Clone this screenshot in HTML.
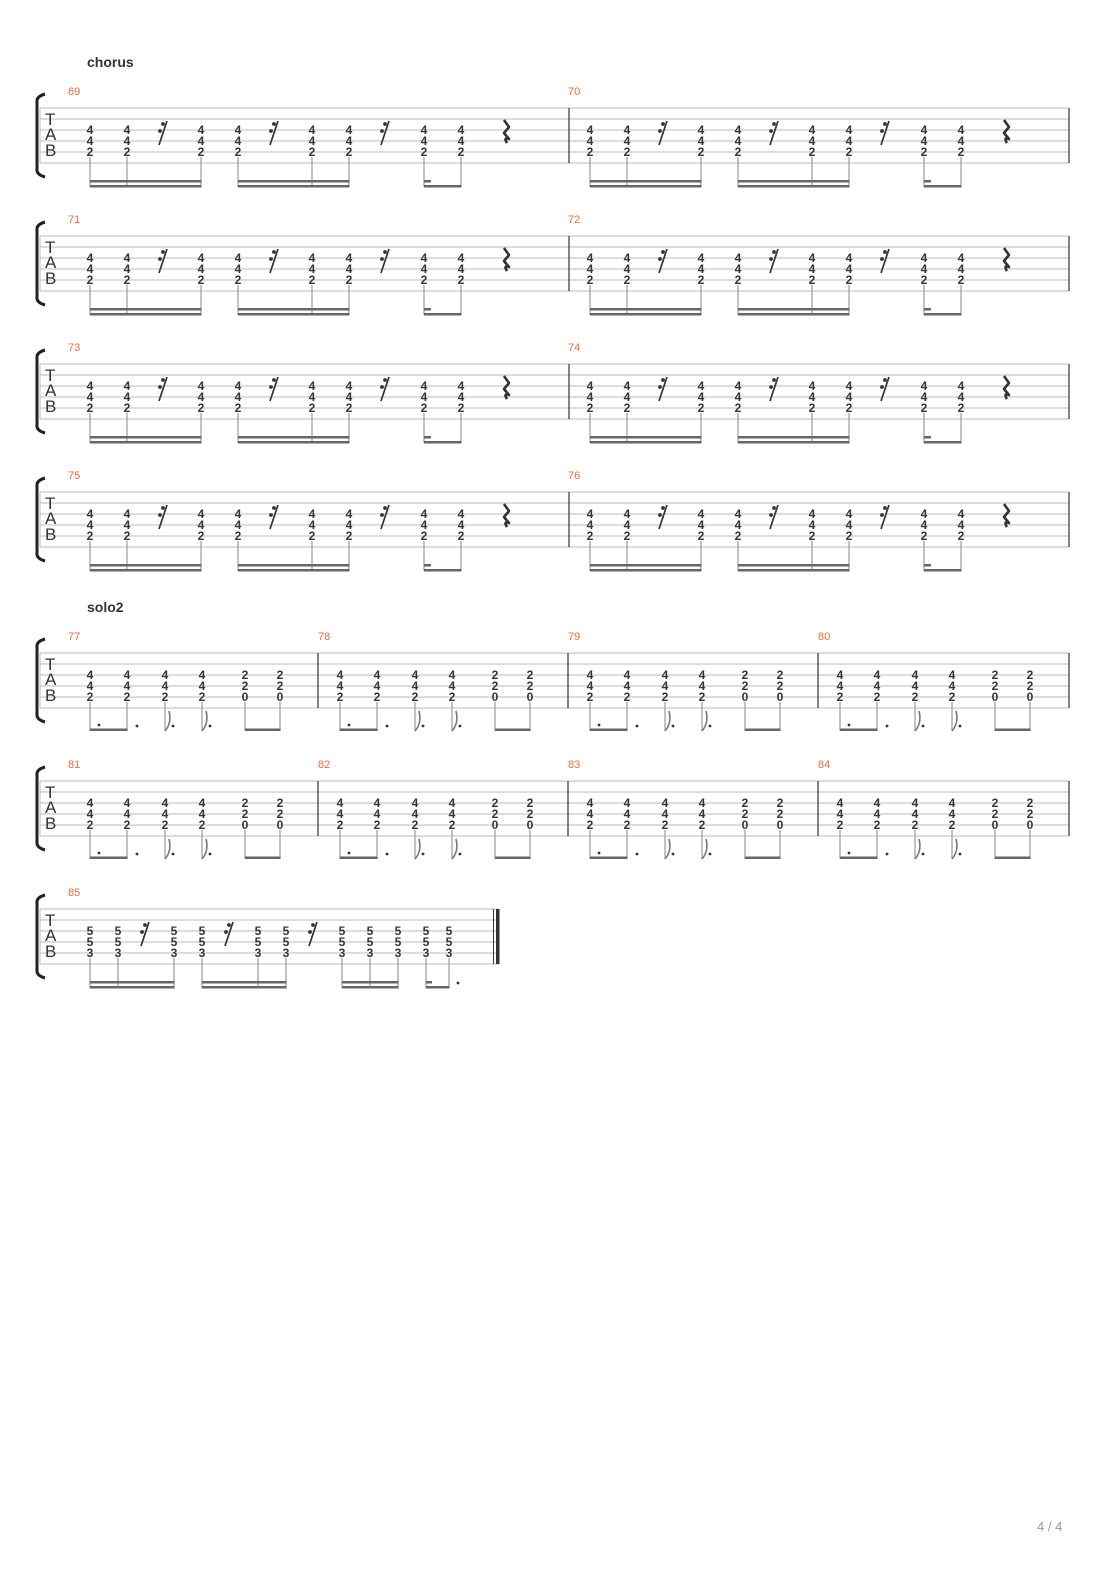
<!DOCTYPE html>
<html><head><meta charset="utf-8"><style>
body{margin:0;background:#fff}
svg{display:block}
.n{font:bold 12px "Liberation Sans",sans-serif;fill:#333;text-anchor:middle}
.mn{font:11px "Liberation Sans",sans-serif;fill:#f26b3a}
.tab{font:17px "Liberation Sans",sans-serif;fill:#333}
.sec{font:bold 14px "Liberation Sans",sans-serif;fill:#333}
.st{stroke:#bbb;stroke-width:1}
.stem{stroke:#999;stroke-width:1.2;fill:none}
.bm{fill:#666}
.r{stroke:#333;stroke-width:1.7;fill:none}
.rd{fill:#333}
.q{stroke:#333;stroke-width:2.6;fill:none;stroke-linejoin:round}
.fl{stroke:#777;stroke-width:1.6;fill:none}
.dt{fill:#333}
</style></head><body>
<svg width="1110" height="1570" viewBox="0 0 1110 1570" xmlns="http://www.w3.org/2000/svg">
<text class="sec" x="87" y="67">chorus</text>
<text class="sec" x="87" y="612">solo2</text>
<text x="1037" y="1531" style="font:13px 'Liberation Sans',sans-serif;fill:#999">4 / 4</text>

<!-- CHORUS SYSTEMS -->
<g id="sys1" transform="translate(0,108)">
<path class="st" d="M40 0H1069M40 11H1069M40 22H1069M40 33H1069M40 44H1069M40 55H1069M40 0V55"/>
<path d="M569 0V55M1069 0V55" stroke="#333" stroke-width="1.2"/>
<path d="M45 -14Q38 -12 37 -8V63Q38 67 45 69" stroke="#222" stroke-width="3" fill="none"/>
<text class="tab" x="45" y="17">T</text><text class="tab" x="45" y="32">A</text><text class="tab" x="45" y="48">B</text>
<text class="mn" x="68" y="-13">69</text><text class="mn" x="568" y="-13">70</text>
<g transform="translate(40,0)">
<text class="n" x="50" y="26">4<tspan x="50" dy="11">4</tspan><tspan x="50" dy="11">2</tspan></text>
<text class="n" x="87" y="26">4<tspan x="87" dy="11">4</tspan><tspan x="87" dy="11">2</tspan></text>
<text class="n" x="161" y="26">4<tspan x="161" dy="11">4</tspan><tspan x="161" dy="11">2</tspan></text>
<text class="n" x="198" y="26">4<tspan x="198" dy="11">4</tspan><tspan x="198" dy="11">2</tspan></text>
<text class="n" x="272" y="26">4<tspan x="272" dy="11">4</tspan><tspan x="272" dy="11">2</tspan></text>
<text class="n" x="309" y="26">4<tspan x="309" dy="11">4</tspan><tspan x="309" dy="11">2</tspan></text>
<text class="n" x="384" y="26">4<tspan x="384" dy="11">4</tspan><tspan x="384" dy="11">2</tspan></text>
<text class="n" x="421" y="26">4<tspan x="421" dy="11">4</tspan><tspan x="421" dy="11">2</tspan></text>
<path class="r" d="M127 13L119 37M238 13L230 37M349 13L341 37"/>
<circle class="rd" cx="123" cy="16" r="1.9"/><circle class="rd" cx="120" cy="23" r="1.9"/>
<circle class="rd" cx="234" cy="16" r="1.9"/><circle class="rd" cx="231" cy="23" r="1.9"/>
<circle class="rd" cx="345" cy="16" r="1.9"/><circle class="rd" cx="342" cy="23" r="1.9"/>
<path class="q" d="M464 12L469 19L464 25L469 31Q463 29 467 35"/>
<path class="stem" d="M50 49V79M87 49V79M161 49V79M198 49V79M272 49V79M309 49V79M384 49V79M421 49V79"/>
<rect class="bm" x="50" y="72" width="111.5" height="2.5"/><rect class="bm" x="50" y="77" width="111.5" height="2.5"/>
<rect class="bm" x="198" y="72" width="111.5" height="2.5"/><rect class="bm" x="198" y="77" width="111.5" height="2.5"/>
<rect class="bm" x="384" y="72" width="7" height="2.5"/><rect class="bm" x="384" y="77" width="37.5" height="2.5"/>
</g>
<g transform="translate(540,0)">
<text class="n" x="50" y="26">4<tspan x="50" dy="11">4</tspan><tspan x="50" dy="11">2</tspan></text>
<text class="n" x="87" y="26">4<tspan x="87" dy="11">4</tspan><tspan x="87" dy="11">2</tspan></text>
<text class="n" x="161" y="26">4<tspan x="161" dy="11">4</tspan><tspan x="161" dy="11">2</tspan></text>
<text class="n" x="198" y="26">4<tspan x="198" dy="11">4</tspan><tspan x="198" dy="11">2</tspan></text>
<text class="n" x="272" y="26">4<tspan x="272" dy="11">4</tspan><tspan x="272" dy="11">2</tspan></text>
<text class="n" x="309" y="26">4<tspan x="309" dy="11">4</tspan><tspan x="309" dy="11">2</tspan></text>
<text class="n" x="384" y="26">4<tspan x="384" dy="11">4</tspan><tspan x="384" dy="11">2</tspan></text>
<text class="n" x="421" y="26">4<tspan x="421" dy="11">4</tspan><tspan x="421" dy="11">2</tspan></text>
<path class="r" d="M127 13L119 37M238 13L230 37M349 13L341 37"/>
<circle class="rd" cx="123" cy="16" r="1.9"/><circle class="rd" cx="120" cy="23" r="1.9"/>
<circle class="rd" cx="234" cy="16" r="1.9"/><circle class="rd" cx="231" cy="23" r="1.9"/>
<circle class="rd" cx="345" cy="16" r="1.9"/><circle class="rd" cx="342" cy="23" r="1.9"/>
<path class="q" d="M464 12L469 19L464 25L469 31Q463 29 467 35"/>
<path class="stem" d="M50 49V79M87 49V79M161 49V79M198 49V79M272 49V79M309 49V79M384 49V79M421 49V79"/>
<rect class="bm" x="50" y="72" width="111.5" height="2.5"/><rect class="bm" x="50" y="77" width="111.5" height="2.5"/>
<rect class="bm" x="198" y="72" width="111.5" height="2.5"/><rect class="bm" x="198" y="77" width="111.5" height="2.5"/>
<rect class="bm" x="384" y="72" width="7" height="2.5"/><rect class="bm" x="384" y="77" width="37.5" height="2.5"/>
</g>
</g>

<g transform="translate(0,236)">
<path class="st" d="M40 0H1069M40 11H1069M40 22H1069M40 33H1069M40 44H1069M40 55H1069M40 0V55"/>
<path d="M569 0V55M1069 0V55" stroke="#333" stroke-width="1.2"/>
<path d="M45 -14Q38 -12 37 -8V63Q38 67 45 69" stroke="#222" stroke-width="3" fill="none"/>
<text class="tab" x="45" y="17">T</text><text class="tab" x="45" y="32">A</text><text class="tab" x="45" y="48">B</text>
<text class="mn" x="68" y="-13">71</text><text class="mn" x="568" y="-13">72</text>
<g transform="translate(40,0)">
<text class="n" x="50" y="26">4<tspan x="50" dy="11">4</tspan><tspan x="50" dy="11">2</tspan></text>
<text class="n" x="87" y="26">4<tspan x="87" dy="11">4</tspan><tspan x="87" dy="11">2</tspan></text>
<text class="n" x="161" y="26">4<tspan x="161" dy="11">4</tspan><tspan x="161" dy="11">2</tspan></text>
<text class="n" x="198" y="26">4<tspan x="198" dy="11">4</tspan><tspan x="198" dy="11">2</tspan></text>
<text class="n" x="272" y="26">4<tspan x="272" dy="11">4</tspan><tspan x="272" dy="11">2</tspan></text>
<text class="n" x="309" y="26">4<tspan x="309" dy="11">4</tspan><tspan x="309" dy="11">2</tspan></text>
<text class="n" x="384" y="26">4<tspan x="384" dy="11">4</tspan><tspan x="384" dy="11">2</tspan></text>
<text class="n" x="421" y="26">4<tspan x="421" dy="11">4</tspan><tspan x="421" dy="11">2</tspan></text>
<path class="r" d="M127 13L119 37M238 13L230 37M349 13L341 37"/>
<circle class="rd" cx="123" cy="16" r="1.9"/><circle class="rd" cx="120" cy="23" r="1.9"/>
<circle class="rd" cx="234" cy="16" r="1.9"/><circle class="rd" cx="231" cy="23" r="1.9"/>
<circle class="rd" cx="345" cy="16" r="1.9"/><circle class="rd" cx="342" cy="23" r="1.9"/>
<path class="q" d="M464 12L469 19L464 25L469 31Q463 29 467 35"/>
<path class="stem" d="M50 49V79M87 49V79M161 49V79M198 49V79M272 49V79M309 49V79M384 49V79M421 49V79"/>
<rect class="bm" x="50" y="72" width="111.5" height="2.5"/><rect class="bm" x="50" y="77" width="111.5" height="2.5"/>
<rect class="bm" x="198" y="72" width="111.5" height="2.5"/><rect class="bm" x="198" y="77" width="111.5" height="2.5"/>
<rect class="bm" x="384" y="72" width="7" height="2.5"/><rect class="bm" x="384" y="77" width="37.5" height="2.5"/>
</g>
<g transform="translate(540,0)">
<text class="n" x="50" y="26">4<tspan x="50" dy="11">4</tspan><tspan x="50" dy="11">2</tspan></text>
<text class="n" x="87" y="26">4<tspan x="87" dy="11">4</tspan><tspan x="87" dy="11">2</tspan></text>
<text class="n" x="161" y="26">4<tspan x="161" dy="11">4</tspan><tspan x="161" dy="11">2</tspan></text>
<text class="n" x="198" y="26">4<tspan x="198" dy="11">4</tspan><tspan x="198" dy="11">2</tspan></text>
<text class="n" x="272" y="26">4<tspan x="272" dy="11">4</tspan><tspan x="272" dy="11">2</tspan></text>
<text class="n" x="309" y="26">4<tspan x="309" dy="11">4</tspan><tspan x="309" dy="11">2</tspan></text>
<text class="n" x="384" y="26">4<tspan x="384" dy="11">4</tspan><tspan x="384" dy="11">2</tspan></text>
<text class="n" x="421" y="26">4<tspan x="421" dy="11">4</tspan><tspan x="421" dy="11">2</tspan></text>
<path class="r" d="M127 13L119 37M238 13L230 37M349 13L341 37"/>
<circle class="rd" cx="123" cy="16" r="1.9"/><circle class="rd" cx="120" cy="23" r="1.9"/>
<circle class="rd" cx="234" cy="16" r="1.9"/><circle class="rd" cx="231" cy="23" r="1.9"/>
<circle class="rd" cx="345" cy="16" r="1.9"/><circle class="rd" cx="342" cy="23" r="1.9"/>
<path class="q" d="M464 12L469 19L464 25L469 31Q463 29 467 35"/>
<path class="stem" d="M50 49V79M87 49V79M161 49V79M198 49V79M272 49V79M309 49V79M384 49V79M421 49V79"/>
<rect class="bm" x="50" y="72" width="111.5" height="2.5"/><rect class="bm" x="50" y="77" width="111.5" height="2.5"/>
<rect class="bm" x="198" y="72" width="111.5" height="2.5"/><rect class="bm" x="198" y="77" width="111.5" height="2.5"/>
<rect class="bm" x="384" y="72" width="7" height="2.5"/><rect class="bm" x="384" y="77" width="37.5" height="2.5"/>
</g>
</g>

<g transform="translate(0,364)">
<path class="st" d="M40 0H1069M40 11H1069M40 22H1069M40 33H1069M40 44H1069M40 55H1069M40 0V55"/>
<path d="M569 0V55M1069 0V55" stroke="#333" stroke-width="1.2"/>
<path d="M45 -14Q38 -12 37 -8V63Q38 67 45 69" stroke="#222" stroke-width="3" fill="none"/>
<text class="tab" x="45" y="17">T</text><text class="tab" x="45" y="32">A</text><text class="tab" x="45" y="48">B</text>
<text class="mn" x="68" y="-13">73</text><text class="mn" x="568" y="-13">74</text>
<g transform="translate(40,0)">
<text class="n" x="50" y="26">4<tspan x="50" dy="11">4</tspan><tspan x="50" dy="11">2</tspan></text>
<text class="n" x="87" y="26">4<tspan x="87" dy="11">4</tspan><tspan x="87" dy="11">2</tspan></text>
<text class="n" x="161" y="26">4<tspan x="161" dy="11">4</tspan><tspan x="161" dy="11">2</tspan></text>
<text class="n" x="198" y="26">4<tspan x="198" dy="11">4</tspan><tspan x="198" dy="11">2</tspan></text>
<text class="n" x="272" y="26">4<tspan x="272" dy="11">4</tspan><tspan x="272" dy="11">2</tspan></text>
<text class="n" x="309" y="26">4<tspan x="309" dy="11">4</tspan><tspan x="309" dy="11">2</tspan></text>
<text class="n" x="384" y="26">4<tspan x="384" dy="11">4</tspan><tspan x="384" dy="11">2</tspan></text>
<text class="n" x="421" y="26">4<tspan x="421" dy="11">4</tspan><tspan x="421" dy="11">2</tspan></text>
<path class="r" d="M127 13L119 37M238 13L230 37M349 13L341 37"/>
<circle class="rd" cx="123" cy="16" r="1.9"/><circle class="rd" cx="120" cy="23" r="1.9"/>
<circle class="rd" cx="234" cy="16" r="1.9"/><circle class="rd" cx="231" cy="23" r="1.9"/>
<circle class="rd" cx="345" cy="16" r="1.9"/><circle class="rd" cx="342" cy="23" r="1.9"/>
<path class="q" d="M464 12L469 19L464 25L469 31Q463 29 467 35"/>
<path class="stem" d="M50 49V79M87 49V79M161 49V79M198 49V79M272 49V79M309 49V79M384 49V79M421 49V79"/>
<rect class="bm" x="50" y="72" width="111.5" height="2.5"/><rect class="bm" x="50" y="77" width="111.5" height="2.5"/>
<rect class="bm" x="198" y="72" width="111.5" height="2.5"/><rect class="bm" x="198" y="77" width="111.5" height="2.5"/>
<rect class="bm" x="384" y="72" width="7" height="2.5"/><rect class="bm" x="384" y="77" width="37.5" height="2.5"/>
</g>
<g transform="translate(540,0)">
<text class="n" x="50" y="26">4<tspan x="50" dy="11">4</tspan><tspan x="50" dy="11">2</tspan></text>
<text class="n" x="87" y="26">4<tspan x="87" dy="11">4</tspan><tspan x="87" dy="11">2</tspan></text>
<text class="n" x="161" y="26">4<tspan x="161" dy="11">4</tspan><tspan x="161" dy="11">2</tspan></text>
<text class="n" x="198" y="26">4<tspan x="198" dy="11">4</tspan><tspan x="198" dy="11">2</tspan></text>
<text class="n" x="272" y="26">4<tspan x="272" dy="11">4</tspan><tspan x="272" dy="11">2</tspan></text>
<text class="n" x="309" y="26">4<tspan x="309" dy="11">4</tspan><tspan x="309" dy="11">2</tspan></text>
<text class="n" x="384" y="26">4<tspan x="384" dy="11">4</tspan><tspan x="384" dy="11">2</tspan></text>
<text class="n" x="421" y="26">4<tspan x="421" dy="11">4</tspan><tspan x="421" dy="11">2</tspan></text>
<path class="r" d="M127 13L119 37M238 13L230 37M349 13L341 37"/>
<circle class="rd" cx="123" cy="16" r="1.9"/><circle class="rd" cx="120" cy="23" r="1.9"/>
<circle class="rd" cx="234" cy="16" r="1.9"/><circle class="rd" cx="231" cy="23" r="1.9"/>
<circle class="rd" cx="345" cy="16" r="1.9"/><circle class="rd" cx="342" cy="23" r="1.9"/>
<path class="q" d="M464 12L469 19L464 25L469 31Q463 29 467 35"/>
<path class="stem" d="M50 49V79M87 49V79M161 49V79M198 49V79M272 49V79M309 49V79M384 49V79M421 49V79"/>
<rect class="bm" x="50" y="72" width="111.5" height="2.5"/><rect class="bm" x="50" y="77" width="111.5" height="2.5"/>
<rect class="bm" x="198" y="72" width="111.5" height="2.5"/><rect class="bm" x="198" y="77" width="111.5" height="2.5"/>
<rect class="bm" x="384" y="72" width="7" height="2.5"/><rect class="bm" x="384" y="77" width="37.5" height="2.5"/>
</g>
</g>

<g transform="translate(0,492)">
<path class="st" d="M40 0H1069M40 11H1069M40 22H1069M40 33H1069M40 44H1069M40 55H1069M40 0V55"/>
<path d="M569 0V55M1069 0V55" stroke="#333" stroke-width="1.2"/>
<path d="M45 -14Q38 -12 37 -8V63Q38 67 45 69" stroke="#222" stroke-width="3" fill="none"/>
<text class="tab" x="45" y="17">T</text><text class="tab" x="45" y="32">A</text><text class="tab" x="45" y="48">B</text>
<text class="mn" x="68" y="-13">75</text><text class="mn" x="568" y="-13">76</text>
<g transform="translate(40,0)">
<text class="n" x="50" y="26">4<tspan x="50" dy="11">4</tspan><tspan x="50" dy="11">2</tspan></text>
<text class="n" x="87" y="26">4<tspan x="87" dy="11">4</tspan><tspan x="87" dy="11">2</tspan></text>
<text class="n" x="161" y="26">4<tspan x="161" dy="11">4</tspan><tspan x="161" dy="11">2</tspan></text>
<text class="n" x="198" y="26">4<tspan x="198" dy="11">4</tspan><tspan x="198" dy="11">2</tspan></text>
<text class="n" x="272" y="26">4<tspan x="272" dy="11">4</tspan><tspan x="272" dy="11">2</tspan></text>
<text class="n" x="309" y="26">4<tspan x="309" dy="11">4</tspan><tspan x="309" dy="11">2</tspan></text>
<text class="n" x="384" y="26">4<tspan x="384" dy="11">4</tspan><tspan x="384" dy="11">2</tspan></text>
<text class="n" x="421" y="26">4<tspan x="421" dy="11">4</tspan><tspan x="421" dy="11">2</tspan></text>
<path class="r" d="M127 13L119 37M238 13L230 37M349 13L341 37"/>
<circle class="rd" cx="123" cy="16" r="1.9"/><circle class="rd" cx="120" cy="23" r="1.9"/>
<circle class="rd" cx="234" cy="16" r="1.9"/><circle class="rd" cx="231" cy="23" r="1.9"/>
<circle class="rd" cx="345" cy="16" r="1.9"/><circle class="rd" cx="342" cy="23" r="1.9"/>
<path class="q" d="M464 12L469 19L464 25L469 31Q463 29 467 35"/>
<path class="stem" d="M50 49V79M87 49V79M161 49V79M198 49V79M272 49V79M309 49V79M384 49V79M421 49V79"/>
<rect class="bm" x="50" y="72" width="111.5" height="2.5"/><rect class="bm" x="50" y="77" width="111.5" height="2.5"/>
<rect class="bm" x="198" y="72" width="111.5" height="2.5"/><rect class="bm" x="198" y="77" width="111.5" height="2.5"/>
<rect class="bm" x="384" y="72" width="7" height="2.5"/><rect class="bm" x="384" y="77" width="37.5" height="2.5"/>
</g>
<g transform="translate(540,0)">
<text class="n" x="50" y="26">4<tspan x="50" dy="11">4</tspan><tspan x="50" dy="11">2</tspan></text>
<text class="n" x="87" y="26">4<tspan x="87" dy="11">4</tspan><tspan x="87" dy="11">2</tspan></text>
<text class="n" x="161" y="26">4<tspan x="161" dy="11">4</tspan><tspan x="161" dy="11">2</tspan></text>
<text class="n" x="198" y="26">4<tspan x="198" dy="11">4</tspan><tspan x="198" dy="11">2</tspan></text>
<text class="n" x="272" y="26">4<tspan x="272" dy="11">4</tspan><tspan x="272" dy="11">2</tspan></text>
<text class="n" x="309" y="26">4<tspan x="309" dy="11">4</tspan><tspan x="309" dy="11">2</tspan></text>
<text class="n" x="384" y="26">4<tspan x="384" dy="11">4</tspan><tspan x="384" dy="11">2</tspan></text>
<text class="n" x="421" y="26">4<tspan x="421" dy="11">4</tspan><tspan x="421" dy="11">2</tspan></text>
<path class="r" d="M127 13L119 37M238 13L230 37M349 13L341 37"/>
<circle class="rd" cx="123" cy="16" r="1.9"/><circle class="rd" cx="120" cy="23" r="1.9"/>
<circle class="rd" cx="234" cy="16" r="1.9"/><circle class="rd" cx="231" cy="23" r="1.9"/>
<circle class="rd" cx="345" cy="16" r="1.9"/><circle class="rd" cx="342" cy="23" r="1.9"/>
<path class="q" d="M464 12L469 19L464 25L469 31Q463 29 467 35"/>
<path class="stem" d="M50 49V79M87 49V79M161 49V79M198 49V79M272 49V79M309 49V79M384 49V79M421 49V79"/>
<rect class="bm" x="50" y="72" width="111.5" height="2.5"/><rect class="bm" x="50" y="77" width="111.5" height="2.5"/>
<rect class="bm" x="198" y="72" width="111.5" height="2.5"/><rect class="bm" x="198" y="77" width="111.5" height="2.5"/>
<rect class="bm" x="384" y="72" width="7" height="2.5"/><rect class="bm" x="384" y="77" width="37.5" height="2.5"/>
</g>
</g>

<!-- SOLO2 SYSTEMS -->
<g transform="translate(0,653)">
<path class="st" d="M40 0H1069M40 11H1069M40 22H1069M40 33H1069M40 44H1069M40 55H1069M40 0V55"/>
<path d="M318 0V55M568 0V55M818 0V55M1069 0V55" stroke="#333" stroke-width="1.2"/>
<path d="M45 -14Q38 -12 37 -8V63Q38 67 45 69" stroke="#222" stroke-width="3" fill="none"/>
<text class="tab" x="45" y="17">T</text><text class="tab" x="45" y="32">A</text><text class="tab" x="45" y="48">B</text>
<text class="mn" x="68" y="-13">77</text><text class="mn" x="318" y="-13">78</text><text class="mn" x="568" y="-13">79</text><text class="mn" x="818" y="-13">80</text>
<g transform="translate(40,0)">
<text class="n" x="50" y="26">4<tspan x="50" dy="11">4</tspan><tspan x="50" dy="11">2</tspan></text>
<text class="n" x="87" y="26">4<tspan x="87" dy="11">4</tspan><tspan x="87" dy="11">2</tspan></text>
<text class="n" x="125" y="26">4<tspan x="125" dy="11">4</tspan><tspan x="125" dy="11">2</tspan></text>
<text class="n" x="162" y="26">4<tspan x="162" dy="11">4</tspan><tspan x="162" dy="11">2</tspan></text>
<text class="n" x="205" y="26">2<tspan x="205" dy="11">2</tspan><tspan x="205" dy="11">0</tspan></text>
<text class="n" x="240" y="26">2<tspan x="240" dy="11">2</tspan><tspan x="240" dy="11">0</tspan></text>
<path class="stem" d="M50 49V78M87 49V78M125 49V78M162 49V78M205 49V78M240 49V78"/>
<path class="fl" d="M125 78Q132 70 129 58M162 78Q169 70 166 58"/>
<rect class="bm" x="50" y="75.5" width="37.5" height="2.5"/><rect class="bm" x="205" y="75.5" width="35.5" height="2.5"/>
<circle class="dt" cx="59" cy="72" r="1.4"/><circle class="dt" cx="97" cy="73" r="1.4"/><circle class="dt" cx="133" cy="73" r="1.4"/><circle class="dt" cx="170" cy="73" r="1.4"/>
</g>
<g transform="translate(290,0)">
<text class="n" x="50" y="26">4<tspan x="50" dy="11">4</tspan><tspan x="50" dy="11">2</tspan></text>
<text class="n" x="87" y="26">4<tspan x="87" dy="11">4</tspan><tspan x="87" dy="11">2</tspan></text>
<text class="n" x="125" y="26">4<tspan x="125" dy="11">4</tspan><tspan x="125" dy="11">2</tspan></text>
<text class="n" x="162" y="26">4<tspan x="162" dy="11">4</tspan><tspan x="162" dy="11">2</tspan></text>
<text class="n" x="205" y="26">2<tspan x="205" dy="11">2</tspan><tspan x="205" dy="11">0</tspan></text>
<text class="n" x="240" y="26">2<tspan x="240" dy="11">2</tspan><tspan x="240" dy="11">0</tspan></text>
<path class="stem" d="M50 49V78M87 49V78M125 49V78M162 49V78M205 49V78M240 49V78"/>
<path class="fl" d="M125 78Q132 70 129 58M162 78Q169 70 166 58"/>
<rect class="bm" x="50" y="75.5" width="37.5" height="2.5"/><rect class="bm" x="205" y="75.5" width="35.5" height="2.5"/>
<circle class="dt" cx="59" cy="72" r="1.4"/><circle class="dt" cx="97" cy="73" r="1.4"/><circle class="dt" cx="133" cy="73" r="1.4"/><circle class="dt" cx="170" cy="73" r="1.4"/>
</g>
<g transform="translate(540,0)">
<text class="n" x="50" y="26">4<tspan x="50" dy="11">4</tspan><tspan x="50" dy="11">2</tspan></text>
<text class="n" x="87" y="26">4<tspan x="87" dy="11">4</tspan><tspan x="87" dy="11">2</tspan></text>
<text class="n" x="125" y="26">4<tspan x="125" dy="11">4</tspan><tspan x="125" dy="11">2</tspan></text>
<text class="n" x="162" y="26">4<tspan x="162" dy="11">4</tspan><tspan x="162" dy="11">2</tspan></text>
<text class="n" x="205" y="26">2<tspan x="205" dy="11">2</tspan><tspan x="205" dy="11">0</tspan></text>
<text class="n" x="240" y="26">2<tspan x="240" dy="11">2</tspan><tspan x="240" dy="11">0</tspan></text>
<path class="stem" d="M50 49V78M87 49V78M125 49V78M162 49V78M205 49V78M240 49V78"/>
<path class="fl" d="M125 78Q132 70 129 58M162 78Q169 70 166 58"/>
<rect class="bm" x="50" y="75.5" width="37.5" height="2.5"/><rect class="bm" x="205" y="75.5" width="35.5" height="2.5"/>
<circle class="dt" cx="59" cy="72" r="1.4"/><circle class="dt" cx="97" cy="73" r="1.4"/><circle class="dt" cx="133" cy="73" r="1.4"/><circle class="dt" cx="170" cy="73" r="1.4"/>
</g>
<g transform="translate(790,0)">
<text class="n" x="50" y="26">4<tspan x="50" dy="11">4</tspan><tspan x="50" dy="11">2</tspan></text>
<text class="n" x="87" y="26">4<tspan x="87" dy="11">4</tspan><tspan x="87" dy="11">2</tspan></text>
<text class="n" x="125" y="26">4<tspan x="125" dy="11">4</tspan><tspan x="125" dy="11">2</tspan></text>
<text class="n" x="162" y="26">4<tspan x="162" dy="11">4</tspan><tspan x="162" dy="11">2</tspan></text>
<text class="n" x="205" y="26">2<tspan x="205" dy="11">2</tspan><tspan x="205" dy="11">0</tspan></text>
<text class="n" x="240" y="26">2<tspan x="240" dy="11">2</tspan><tspan x="240" dy="11">0</tspan></text>
<path class="stem" d="M50 49V78M87 49V78M125 49V78M162 49V78M205 49V78M240 49V78"/>
<path class="fl" d="M125 78Q132 70 129 58M162 78Q169 70 166 58"/>
<rect class="bm" x="50" y="75.5" width="37.5" height="2.5"/><rect class="bm" x="205" y="75.5" width="35.5" height="2.5"/>
<circle class="dt" cx="59" cy="72" r="1.4"/><circle class="dt" cx="97" cy="73" r="1.4"/><circle class="dt" cx="133" cy="73" r="1.4"/><circle class="dt" cx="170" cy="73" r="1.4"/>
</g>
</g>

<g transform="translate(0,781)">
<path class="st" d="M40 0H1069M40 11H1069M40 22H1069M40 33H1069M40 44H1069M40 55H1069M40 0V55"/>
<path d="M318 0V55M568 0V55M818 0V55M1069 0V55" stroke="#333" stroke-width="1.2"/>
<path d="M45 -14Q38 -12 37 -8V63Q38 67 45 69" stroke="#222" stroke-width="3" fill="none"/>
<text class="tab" x="45" y="17">T</text><text class="tab" x="45" y="32">A</text><text class="tab" x="45" y="48">B</text>
<text class="mn" x="68" y="-13">81</text><text class="mn" x="318" y="-13">82</text><text class="mn" x="568" y="-13">83</text><text class="mn" x="818" y="-13">84</text>
<g transform="translate(40,0)">
<text class="n" x="50" y="26">4<tspan x="50" dy="11">4</tspan><tspan x="50" dy="11">2</tspan></text>
<text class="n" x="87" y="26">4<tspan x="87" dy="11">4</tspan><tspan x="87" dy="11">2</tspan></text>
<text class="n" x="125" y="26">4<tspan x="125" dy="11">4</tspan><tspan x="125" dy="11">2</tspan></text>
<text class="n" x="162" y="26">4<tspan x="162" dy="11">4</tspan><tspan x="162" dy="11">2</tspan></text>
<text class="n" x="205" y="26">2<tspan x="205" dy="11">2</tspan><tspan x="205" dy="11">0</tspan></text>
<text class="n" x="240" y="26">2<tspan x="240" dy="11">2</tspan><tspan x="240" dy="11">0</tspan></text>
<path class="stem" d="M50 49V78M87 49V78M125 49V78M162 49V78M205 49V78M240 49V78"/>
<path class="fl" d="M125 78Q132 70 129 58M162 78Q169 70 166 58"/>
<rect class="bm" x="50" y="75.5" width="37.5" height="2.5"/><rect class="bm" x="205" y="75.5" width="35.5" height="2.5"/>
<circle class="dt" cx="59" cy="72" r="1.4"/><circle class="dt" cx="97" cy="73" r="1.4"/><circle class="dt" cx="133" cy="73" r="1.4"/><circle class="dt" cx="170" cy="73" r="1.4"/>
</g>
<g transform="translate(290,0)">
<text class="n" x="50" y="26">4<tspan x="50" dy="11">4</tspan><tspan x="50" dy="11">2</tspan></text>
<text class="n" x="87" y="26">4<tspan x="87" dy="11">4</tspan><tspan x="87" dy="11">2</tspan></text>
<text class="n" x="125" y="26">4<tspan x="125" dy="11">4</tspan><tspan x="125" dy="11">2</tspan></text>
<text class="n" x="162" y="26">4<tspan x="162" dy="11">4</tspan><tspan x="162" dy="11">2</tspan></text>
<text class="n" x="205" y="26">2<tspan x="205" dy="11">2</tspan><tspan x="205" dy="11">0</tspan></text>
<text class="n" x="240" y="26">2<tspan x="240" dy="11">2</tspan><tspan x="240" dy="11">0</tspan></text>
<path class="stem" d="M50 49V78M87 49V78M125 49V78M162 49V78M205 49V78M240 49V78"/>
<path class="fl" d="M125 78Q132 70 129 58M162 78Q169 70 166 58"/>
<rect class="bm" x="50" y="75.5" width="37.5" height="2.5"/><rect class="bm" x="205" y="75.5" width="35.5" height="2.5"/>
<circle class="dt" cx="59" cy="72" r="1.4"/><circle class="dt" cx="97" cy="73" r="1.4"/><circle class="dt" cx="133" cy="73" r="1.4"/><circle class="dt" cx="170" cy="73" r="1.4"/>
</g>
<g transform="translate(540,0)">
<text class="n" x="50" y="26">4<tspan x="50" dy="11">4</tspan><tspan x="50" dy="11">2</tspan></text>
<text class="n" x="87" y="26">4<tspan x="87" dy="11">4</tspan><tspan x="87" dy="11">2</tspan></text>
<text class="n" x="125" y="26">4<tspan x="125" dy="11">4</tspan><tspan x="125" dy="11">2</tspan></text>
<text class="n" x="162" y="26">4<tspan x="162" dy="11">4</tspan><tspan x="162" dy="11">2</tspan></text>
<text class="n" x="205" y="26">2<tspan x="205" dy="11">2</tspan><tspan x="205" dy="11">0</tspan></text>
<text class="n" x="240" y="26">2<tspan x="240" dy="11">2</tspan><tspan x="240" dy="11">0</tspan></text>
<path class="stem" d="M50 49V78M87 49V78M125 49V78M162 49V78M205 49V78M240 49V78"/>
<path class="fl" d="M125 78Q132 70 129 58M162 78Q169 70 166 58"/>
<rect class="bm" x="50" y="75.5" width="37.5" height="2.5"/><rect class="bm" x="205" y="75.5" width="35.5" height="2.5"/>
<circle class="dt" cx="59" cy="72" r="1.4"/><circle class="dt" cx="97" cy="73" r="1.4"/><circle class="dt" cx="133" cy="73" r="1.4"/><circle class="dt" cx="170" cy="73" r="1.4"/>
</g>
<g transform="translate(790,0)">
<text class="n" x="50" y="26">4<tspan x="50" dy="11">4</tspan><tspan x="50" dy="11">2</tspan></text>
<text class="n" x="87" y="26">4<tspan x="87" dy="11">4</tspan><tspan x="87" dy="11">2</tspan></text>
<text class="n" x="125" y="26">4<tspan x="125" dy="11">4</tspan><tspan x="125" dy="11">2</tspan></text>
<text class="n" x="162" y="26">4<tspan x="162" dy="11">4</tspan><tspan x="162" dy="11">2</tspan></text>
<text class="n" x="205" y="26">2<tspan x="205" dy="11">2</tspan><tspan x="205" dy="11">0</tspan></text>
<text class="n" x="240" y="26">2<tspan x="240" dy="11">2</tspan><tspan x="240" dy="11">0</tspan></text>
<path class="stem" d="M50 49V78M87 49V78M125 49V78M162 49V78M205 49V78M240 49V78"/>
<path class="fl" d="M125 78Q132 70 129 58M162 78Q169 70 166 58"/>
<rect class="bm" x="50" y="75.5" width="37.5" height="2.5"/><rect class="bm" x="205" y="75.5" width="35.5" height="2.5"/>
<circle class="dt" cx="59" cy="72" r="1.4"/><circle class="dt" cx="97" cy="73" r="1.4"/><circle class="dt" cx="133" cy="73" r="1.4"/><circle class="dt" cx="170" cy="73" r="1.4"/>
</g>
</g>

<!-- MEASURE 85 -->
<g transform="translate(0,909)">
<path class="st" d="M40 0H499M40 11H499M40 22H499M40 33H499M40 44H499M40 55H499M40 0V55"/>
<path d="M493.5 0V55" stroke="#333" stroke-width="1"/>
<rect x="496" y="0" width="3.5" height="55" fill="#333"/>
<path d="M45 -14Q38 -12 37 -8V63Q38 67 45 69" stroke="#222" stroke-width="3" fill="none"/>
<text class="tab" x="45" y="17">T</text><text class="tab" x="45" y="32">A</text><text class="tab" x="45" y="48">B</text>
<text class="mn" x="68" y="-13">85</text>
<g transform="translate(40,0)">
<text class="n" x="50" y="26">5<tspan x="50" dy="11">5</tspan><tspan x="50" dy="11">3</tspan></text>
<text class="n" x="78" y="26">5<tspan x="78" dy="11">5</tspan><tspan x="78" dy="11">3</tspan></text>
<text class="n" x="134" y="26">5<tspan x="134" dy="11">5</tspan><tspan x="134" dy="11">3</tspan></text>
<text class="n" x="162" y="26">5<tspan x="162" dy="11">5</tspan><tspan x="162" dy="11">3</tspan></text>
<text class="n" x="218" y="26">5<tspan x="218" dy="11">5</tspan><tspan x="218" dy="11">3</tspan></text>
<text class="n" x="246" y="26">5<tspan x="246" dy="11">5</tspan><tspan x="246" dy="11">3</tspan></text>
<text class="n" x="302" y="26">5<tspan x="302" dy="11">5</tspan><tspan x="302" dy="11">3</tspan></text>
<text class="n" x="330" y="26">5<tspan x="330" dy="11">5</tspan><tspan x="330" dy="11">3</tspan></text>
<text class="n" x="358" y="26">5<tspan x="358" dy="11">5</tspan><tspan x="358" dy="11">3</tspan></text>
<text class="n" x="386" y="26">5<tspan x="386" dy="11">5</tspan><tspan x="386" dy="11">3</tspan></text>
<text class="n" x="409" y="26">5<tspan x="409" dy="11">5</tspan><tspan x="409" dy="11">3</tspan></text>
<path class="r" d="M109 13L101 37M193 13L185 37M277 13L269 37"/>
<circle class="rd" cx="105" cy="16" r="1.9"/><circle class="rd" cx="102" cy="23" r="1.9"/>
<circle class="rd" cx="189" cy="16" r="1.9"/><circle class="rd" cx="186" cy="23" r="1.9"/>
<circle class="rd" cx="273" cy="16" r="1.9"/><circle class="rd" cx="270" cy="23" r="1.9"/>
<path class="stem" d="M50 49V79M78 49V79M134 49V79M162 49V79M218 49V79M246 49V79M302 49V79M330 49V79M358 49V79M386 49V79M409 49V79"/>
<rect class="bm" x="50" y="72" width="84.5" height="2.5"/><rect class="bm" x="50" y="77" width="84.5" height="2.5"/>
<rect class="bm" x="162" y="72" width="84.5" height="2.5"/><rect class="bm" x="162" y="77" width="84.5" height="2.5"/>
<rect class="bm" x="302" y="72" width="56.5" height="2.5"/><rect class="bm" x="302" y="77" width="56.5" height="2.5"/>
<rect class="bm" x="386" y="72" width="6" height="2.5"/><rect class="bm" x="386" y="77" width="23.5" height="2.5"/>
<circle class="dt" cx="418" cy="74" r="1.4"/>
</g>
</g>
</svg>
</body></html>
